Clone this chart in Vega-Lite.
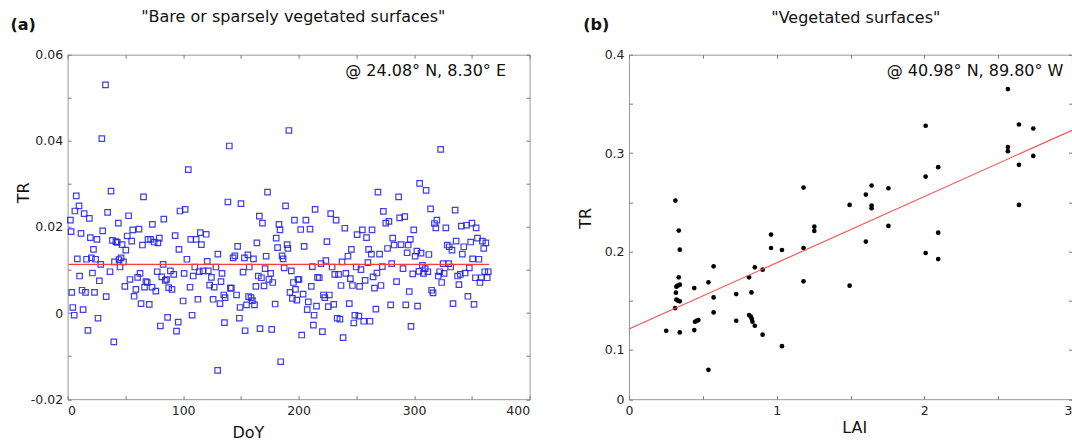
{
"$schema": "https://vega.github.io/schema/vega-lite/v6.json",
"background": "white",
"padding": {"left": 9.6, "top": 8.7, "right": 0, "bottom": 0},
"bounds": "flush",
"spacing": 99.4,
"config": {
  "font": "DejaVu Sans",
  "view": {"stroke": "#999999", "strokeWidth": 1},
  "axis": {"grid": false, "domain": false, "tickColor": "#777", "tickSize": -3.5, "tickWidth": 1, "labelFontSize": 12.5, "labelColor": "#222", "labelFont": "DejaVu Sans", "titleFont": "DejaVu Sans", "titleFontSize": 16, "titleFontWeight": "normal", "titleColor": "#111", "labelPadding": 8.5},
  "text": {"font": "DejaVu Sans", "color": "#111"}
},
"datasets": {
  "bare": [
{"DoY":2.4,"TR":0.0216},{"DoY":3,"TR":0.0189},{"DoY":3.6,"TR":0.0048},{"DoY":4.5,"TR":0.0013},{"DoY":5.7,"TR":-0.0005},{"DoY":6.3,"TR":0.0237},{"DoY":7.5,"TR":0.0272},{"DoY":8.4,"TR":0.0126},{"DoY":9.9,"TR":0.0249},{"DoY":10.4,"TR":0.0086},{"DoY":11.6,"TR":0.0185},{"DoY":12.5,"TR":0.0053},{"DoY":13.4,"TR":0.0008},{"DoY":14.3,"TR":0.0231},{"DoY":15.5,"TR":0.0048},{"DoY":16.4,"TR":0.0125},{"DoY":17.6,"TR":-0.004},{"DoY":18.8,"TR":0.022},{"DoY":19.7,"TR":0.0175},{"DoY":20.6,"TR":0.0128},{"DoY":21.5,"TR":0.0093},{"DoY":22.4,"TR":0.0148},{"DoY":23.3,"TR":0.0048},{"DoY":24.2,"TR":0.0125},{"DoY":25.4,"TR":0.0171},{"DoY":26.3,"TR":-0.0012},{"DoY":27.5,"TR":0.0075},{"DoY":28.7,"TR":0.0113},{"DoY":29.6,"TR":0.0405},{"DoY":30.4,"TR":0.0191},{"DoY":32.8,"TR":0.053},{"DoY":33.4,"TR":0.0038},{"DoY":34.6,"TR":0.0234},{"DoY":36.7,"TR":0.0096},{"DoY":37.6,"TR":0.0283},{"DoY":38.8,"TR":0.0169},{"DoY":40,"TR":-0.0067},{"DoY":40.6,"TR":0.0119},{"DoY":41.8,"TR":0.0166},{"DoY":43,"TR":0.0164},{"DoY":43.9,"TR":0.0209},{"DoY":44.5,"TR":0.0124},{"DoY":45.4,"TR":0.0107},{"DoY":46.3,"TR":0.0128},{"DoY":47.2,"TR":0.0159},{"DoY":48.4,"TR":0.0119},{"DoY":49.6,"TR":0.0062},{"DoY":50.4,"TR":0.0146},{"DoY":51.6,"TR":0.0179},{"DoY":52.8,"TR":0.0226},{"DoY":54,"TR":0.0078},{"DoY":55.5,"TR":0.0167},{"DoY":56.4,"TR":0.0193},{"DoY":57.6,"TR":0.0039},{"DoY":59.1,"TR":0.0055},{"DoY":60.6,"TR":0.0083},{"DoY":61.8,"TR":0.0195},{"DoY":62.7,"TR":0.0092},{"DoY":63.6,"TR":0.0022},{"DoY":64.8,"TR":0.0158},{"DoY":65.7,"TR":0.027},{"DoY":66.6,"TR":0.006},{"DoY":67.8,"TR":0.0073},{"DoY":69,"TR":0.0071},{"DoY":69.6,"TR":0.0171},{"DoY":70.7,"TR":0.002},{"DoY":71.9,"TR":0.0171},{"DoY":73.1,"TR":0.006},{"DoY":73.4,"TR":0.0206},{"DoY":74.9,"TR":0.0165},{"DoY":76.4,"TR":0.0051},{"DoY":77.6,"TR":0.0096},{"DoY":78.2,"TR":0.0163},{"DoY":79.4,"TR":0.0174},{"DoY":80.3,"TR":-0.003},{"DoY":81.5,"TR":0.0084},{"DoY":82.7,"TR":0.0113},{"DoY":83.3,"TR":0.0218},{"DoY":84.5,"TR":0.0076},{"DoY":85.7,"TR":0.0078},{"DoY":86.6,"TR":-0.001},{"DoY":87.5,"TR":0.0059},{"DoY":89,"TR":0.0098},{"DoY":90.4,"TR":0.0055},{"DoY":91.9,"TR":0.009},{"DoY":93.1,"TR":0.018},{"DoY":94.3,"TR":-0.0042},{"DoY":95.8,"TR":-0.0021},{"DoY":96.4,"TR":0.0148},{"DoY":97.3,"TR":0.0237},{"DoY":100,"TR":0.0028},{"DoY":100.9,"TR":0.0092},{"DoY":101.8,"TR":0.0241},{"DoY":103.3,"TR":0.0125},{"DoY":104.5,"TR":0.0333},{"DoY":106,"TR":0.006},{"DoY":106.6,"TR":0.0171},{"DoY":107.8,"TR":-0.0005},{"DoY":108.7,"TR":0.0086},{"DoY":110.1,"TR":0.0107},{"DoY":111.3,"TR":0.0171},{"DoY":112.8,"TR":0.0032},{"DoY":114,"TR":0.0096},{"DoY":114.9,"TR":0.0187},{"DoY":115.8,"TR":0.0159},{"DoY":117.3,"TR":0.0098},{"DoY":120,"TR":0.0183},{"DoY":120.9,"TR":0.012},{"DoY":121.8,"TR":0.0098},{"DoY":123,"TR":0.0065},{"DoY":124.5,"TR":0.0083},{"DoY":126,"TR":0.0032},{"DoY":126.9,"TR":0.006},{"DoY":128.4,"TR":0.0107},{"DoY":129.9,"TR":-0.0133},{"DoY":130.1,"TR":0.0137},{"DoY":131.9,"TR":0.0022},{"DoY":132.8,"TR":0.0073},{"DoY":133.7,"TR":0.0092},{"DoY":135.2,"TR":0.0042},{"DoY":136.4,"TR":0.0036},{"DoY":135.8,"TR":-0.0022},{"DoY":138.8,"TR":0.0258},{"DoY":140,"TR":0.0388},{"DoY":140.9,"TR":0.0058},{"DoY":141.8,"TR":0.0058},{"DoY":143.3,"TR":0.0128},{"DoY":144.8,"TR":0.0133},{"DoY":146.3,"TR":0.0042},{"DoY":147.2,"TR":0.0155},{"DoY":148.7,"TR":-0.0012},{"DoY":149.3,"TR":0.0013},{"DoY":150.1,"TR":0.0254},{"DoY":151.9,"TR":0.0095},{"DoY":153.1,"TR":0.0128},{"DoY":153.7,"TR":-0.0041},{"DoY":154.9,"TR":0.0019},{"DoY":156.1,"TR":0.0135},{"DoY":156.7,"TR":0.0038},{"DoY":157.3,"TR":0.0107},{"DoY":158.8,"TR":0.0036},{"DoY":160,"TR":0.0029},{"DoY":160.9,"TR":0.0126},{"DoY":161.8,"TR":0.0019},{"DoY":163,"TR":0.0062},{"DoY":163.9,"TR":0.0163},{"DoY":165.1,"TR":0.0086},{"DoY":166,"TR":0.0225},{"DoY":166.6,"TR":-0.0036},{"DoY":167.8,"TR":0.0082},{"DoY":168.7,"TR":0.0209},{"DoY":170.1,"TR":0.0063},{"DoY":171,"TR":0.0103},{"DoY":171.9,"TR":0.0132},{"DoY":173.1,"TR":0.0281},{"DoY":174.3,"TR":0.0078},{"DoY":175.8,"TR":0.0092},{"DoY":176.7,"TR":-0.0038},{"DoY":177.6,"TR":0.0071},{"DoY":179.7,"TR":0.0021},{"DoY":180.6,"TR":0.0174},{"DoY":181.8,"TR":0.0152},{"DoY":183,"TR":0.0206},{"DoY":183.9,"TR":0.0193},{"DoY":184.5,"TR":-0.0113},{"DoY":185.7,"TR":0.0133},{"DoY":186.6,"TR":0.0126},{"DoY":187.5,"TR":0.0105},{"DoY":188.7,"TR":0.0249},{"DoY":190.1,"TR":0.0159},{"DoY":190.7,"TR":0.015},{"DoY":191.6,"TR":0.0424},{"DoY":192.5,"TR":0.0048},{"DoY":193.7,"TR":0.0098},{"DoY":194.6,"TR":0.0034},{"DoY":195.5,"TR":0.0071},{"DoY":196.4,"TR":0.0216},{"DoY":197.3,"TR":0.0055},{"DoY":198.5,"TR":0.003},{"DoY":199.4,"TR":0.0078},{"DoY":200.3,"TR":0.0078},{"DoY":201.8,"TR":0.0194},{"DoY":202.7,"TR":-0.0051},{"DoY":203.9,"TR":0.0044},{"DoY":204.8,"TR":0.0155},{"DoY":206.3,"TR":0.0216},{"DoY":207.5,"TR":0.0008},{"DoY":208.4,"TR":0.0026},{"DoY":209.9,"TR":0.0195},{"DoY":211,"TR":0.0062},{"DoY":211.9,"TR":0.0108},{"DoY":212.8,"TR":-0.0028},{"DoY":213.4,"TR":-0.0005},{"DoY":214.3,"TR":0.0241},{"DoY":215.5,"TR":0.0016},{"DoY":216.4,"TR":0.0083},{"DoY":217.9,"TR":0.0082},{"DoY":219.4,"TR":0.0115},{"DoY":220.6,"TR":-0.0043},{"DoY":221.5,"TR":0.0042},{"DoY":222.7,"TR":0.0036},{"DoY":223.6,"TR":0.0122},{"DoY":224.5,"TR":0.0166},{"DoY":225.7,"TR":0.0015},{"DoY":226.6,"TR":0.0042},{"DoY":227.8,"TR":0.0231},{"DoY":229,"TR":0.0107},{"DoY":230.4,"TR":0.002},{"DoY":231.3,"TR":0.009},{"DoY":232.5,"TR":0.0216},{"DoY":233.4,"TR":-0.0012},{"DoY":234.6,"TR":0.009},{"DoY":235.8,"TR":-0.0014},{"DoY":236.7,"TR":0.0064},{"DoY":237.6,"TR":0.0119},{"DoY":238.5,"TR":-0.0057},{"DoY":240,"TR":0.0197},{"DoY":240.9,"TR":0.0092},{"DoY":242.7,"TR":0.0132},{"DoY":243.9,"TR":0.0022},{"DoY":244.8,"TR":0.008},{"DoY":245.7,"TR":0.0148},{"DoY":246.6,"TR":0.0064},{"DoY":247.8,"TR":-0.0023},{"DoY":248.7,"TR":-0.0005},{"DoY":249.9,"TR":0.0107},{"DoY":250.7,"TR":0.0182},{"DoY":252.2,"TR":-0.0007},{"DoY":252.8,"TR":0.0062},{"DoY":254,"TR":0.0101},{"DoY":255.2,"TR":0.0193},{"DoY":256.4,"TR":-0.0019},{"DoY":257.6,"TR":0.0076},{"DoY":258.8,"TR":0.0175},{"DoY":260,"TR":0.0117},{"DoY":260.6,"TR":0.0148},{"DoY":261.8,"TR":-0.0019},{"DoY":263,"TR":0.0137},{"DoY":263.6,"TR":0.0193},{"DoY":264.5,"TR":0.0084},{"DoY":265.7,"TR":0.0058},{"DoY":266.9,"TR":0.0009},{"DoY":267.8,"TR":0.0093},{"DoY":268.7,"TR":0.0281},{"DoY":270.1,"TR":0.0137},{"DoY":271.3,"TR":0.0064},{"DoY":272.5,"TR":0.0108},{"DoY":273.4,"TR":0.0236},{"DoY":275.5,"TR":0.0209},{"DoY":277,"TR":0.015},{"DoY":278.2,"TR":0.0213},{"DoY":279.7,"TR":0.0019},{"DoY":280.6,"TR":0.0115},{"DoY":281.5,"TR":0.0174},{"DoY":282.7,"TR":0.0158},{"DoY":284.8,"TR":0.0073},{"DoY":286.6,"TR":0.027},{"DoY":287.5,"TR":0.0221},{"DoY":288.7,"TR":0.0159},{"DoY":290.4,"TR":0.0103},{"DoY":291.9,"TR":0.0224},{"DoY":292.8,"TR":0.0019},{"DoY":294,"TR":0.014},{"DoY":294.9,"TR":0.0158},{"DoY":295.8,"TR":0.005},{"DoY":296.7,"TR":0.0171},{"DoY":297.3,"TR":-0.0031},{"DoY":298.8,"TR":0.0091},{"DoY":299.7,"TR":0.0193},{"DoY":300.9,"TR":0.0132},{"DoY":302.4,"TR":0.0144},{"DoY":303,"TR":0.0016},{"DoY":304.2,"TR":0.0097},{"DoY":304.8,"TR":0.0301},{"DoY":306,"TR":0.0139},{"DoY":307.2,"TR":0.0111},{"DoY":308.1,"TR":0.0092},{"DoY":309.6,"TR":0.0103},{"DoY":310.4,"TR":0.0285},{"DoY":311.9,"TR":0.0096},{"DoY":312.8,"TR":0.0136},{"DoY":314.3,"TR":0.0242},{"DoY":315.2,"TR":0.0053},{"DoY":316.4,"TR":0.0047},{"DoY":317.6,"TR":0.0208},{"DoY":318.8,"TR":0.0198},{"DoY":319.7,"TR":0.0216},{"DoY":320.9,"TR":0.0086},{"DoY":322.1,"TR":0.0096},{"DoY":323,"TR":0.038},{"DoY":323.9,"TR":0.0071},{"DoY":325.1,"TR":0.0115},{"DoY":326,"TR":0.0092},{"DoY":327.5,"TR":0.0198},{"DoY":328.7,"TR":0.0158},{"DoY":329.9,"TR":0.0115},{"DoY":330.4,"TR":0.0154},{"DoY":331.6,"TR":0.0107},{"DoY":332.8,"TR":0.0146},{"DoY":333.7,"TR":0.0022},{"DoY":335.5,"TR":0.0239},{"DoY":336.4,"TR":0.0167},{"DoY":337.6,"TR":0.0086},{"DoY":338.8,"TR":0.0066},{"DoY":340,"TR":0.009},{"DoY":340.9,"TR":0.0202},{"DoY":341.8,"TR":0.0137},{"DoY":343,"TR":0.0154},{"DoY":344.2,"TR":0.0093},{"DoY":345.4,"TR":0.0204},{"DoY":346.6,"TR":0.0039},{"DoY":347.8,"TR":0.0105},{"DoY":349,"TR":0.0165},{"DoY":350.1,"TR":0.0209},{"DoY":350.7,"TR":0.0126},{"DoY":351.9,"TR":0.002},{"DoY":353.1,"TR":0.0082},{"DoY":353.7,"TR":0.0198},{"DoY":354.9,"TR":0.0174},{"DoY":356.1,"TR":0.0125},{"DoY":357,"TR":0.0071},{"DoY":358.2,"TR":0.0082},{"DoY":359.1,"TR":0.0167},{"DoY":360.3,"TR":0.015},{"DoY":361.2,"TR":0.0096},{"DoY":362.1,"TR":0.0163},{"DoY":363.3,"TR":0.0082},{"DoY":364.2,"TR":0.0096}
  ],
  "bareMean": [{"DoY": 0.6, "TR": 0.0113}, {"DoY": 365, "TR": 0.0113}],
  "veg": [
{"LAI":0.252,"TR":0.1195},{"LAI":0.314,"TR":0.2518},{"LAI":0.337,"TR":0.2213},{"LAI":0.344,"TR":0.2019},{"LAI":0.337,"TR":0.1738},{"LAI":0.321,"TR":0.1643},{"LAI":0.33,"TR":0.1653},{"LAI":0.344,"TR":0.1663},{"LAI":0.318,"TR":0.1582},{"LAI":0.321,"TR":0.1511},{"LAI":0.332,"TR":0.1501},{"LAI":0.344,"TR":0.1494},{"LAI":0.312,"TR":0.1426},{"LAI":0.344,"TR":0.1178},{"LAI":0.442,"TR":0.1629},{"LAI":0.442,"TR":0.1202},{"LAI":0.447,"TR":0.1287},{"LAI":0.458,"TR":0.1297},{"LAI":0.47,"TR":0.1304},{"LAI":0.538,"TR":0.1687},{"LAI":0.538,"TR":0.0798},{"LAI":0.573,"TR":0.185},{"LAI":0.573,"TR":0.1534},{"LAI":0.573,"TR":0.1382},{"LAI":0.726,"TR":0.1568},{"LAI":0.726,"TR":0.1297},{"LAI":0.813,"TR":0.1738},{"LAI":0.813,"TR":0.1355},{"LAI":0.825,"TR":0.1338},{"LAI":0.829,"TR":0.1585},{"LAI":0.832,"TR":0.1314},{"LAI":0.836,"TR":0.1287},{"LAI":0.852,"TR":0.184},{"LAI":0.852,"TR":0.1246},{"LAI":0.905,"TR":0.1816},{"LAI":0.905,"TR":0.1155},{"LAI":0.962,"TR":0.2172},{"LAI":0.962,"TR":0.2036},{"LAI":1.036,"TR":0.2016},{"LAI":1.036,"TR":0.1039},{"LAI":1.182,"TR":0.265},{"LAI":1.182,"TR":0.2036},{"LAI":1.182,"TR":0.1697},{"LAI":1.255,"TR":0.2253},{"LAI":1.255,"TR":0.2209},{"LAI":1.494,"TR":0.2474},{"LAI":1.494,"TR":0.1653},{"LAI":1.604,"TR":0.2579},{"LAI":1.604,"TR":0.2101},{"LAI":1.643,"TR":0.2671},{"LAI":1.643,"TR":0.2467},{"LAI":1.643,"TR":0.244},{"LAI":1.757,"TR":0.2643},{"LAI":1.757,"TR":0.226},{"LAI":2.009,"TR":0.3278},{"LAI":2.009,"TR":0.2762},{"LAI":2.009,"TR":0.1985},{"LAI":2.094,"TR":0.2857},{"LAI":2.094,"TR":0.2192},{"LAI":2.094,"TR":0.1924},{"LAI":2.566,"TR":0.3651},{"LAI":2.566,"TR":0.3061},{"LAI":2.566,"TR":0.302},{"LAI":2.641,"TR":0.3291},{"LAI":2.641,"TR":0.2881},{"LAI":2.641,"TR":0.2474},{"LAI":2.738,"TR":0.325},{"LAI":2.738,"TR":0.2972}
  ],
  "vegFit": [{"LAI": 0, "TR": 0.1212}, {"LAI": 3, "TR": 0.3232}],
  "one": [{}]
},
"hconcat": [
  {
    "width": 462, "height": 344.5,
    "layer": [
      {
        "data": {"name": "bare"},
        "mark": {"type": "point", "shape": "square", "filled": false, "size": 30, "strokeWidth": 1.2, "color": "#1e1ee0", "opacity": 0.85},
        "encoding": {
          "x": {"field": "DoY", "type": "quantitative", "scale": {"domain": [0, 400], "nice": false, "zero": false},
                "axis": {"orient": "bottom", "values": [0,50,100,150,200,250,300,350,400], "labelExpr": "datum.value % 100 == 0 ? format(datum.value, 'd') : ''", "title": "DoY", "titleX": 180.2, "titleY": 33, "titleAlign": "center", "titleBaseline": "middle"}},
          "y": {"field": "TR", "type": "quantitative", "scale": {"domain": [-0.02, 0.06], "nice": false, "zero": false},
                "axis": {"orient": "left", "values": [-0.02,-0.01,0,0.01,0.02,0.03,0.04,0.05,0.06], "labelExpr": "abs(datum.value) < 1e-9 ? '0' : (abs(round(datum.value*100)) % 2 == 1 ? '' : (datum.value < 0 ? '-' : '') + format(abs(datum.value), '.2f'))", "title": "TR", "titleX": -43.8, "titleY": 137.7, "titleAlign": "center", "titleBaseline": "middle", "titleAngle": -90}}
        }
      },
      {
        "data": {"name": "bareMean"},
        "mark": {"type": "line", "color": "#ff3b3b", "strokeWidth": 1.4},
        "encoding": {
          "x": {"field": "DoY", "type": "quantitative", "axis": {"orient": "top", "values": [0,50,100,150,200,250,300,350,400], "labels": false, "title": null}},
          "y": {"field": "TR", "type": "quantitative", "axis": {"orient": "right", "values": [-0.02,-0.01,0,0.01,0.02,0.03,0.04,0.05,0.06], "labels": false, "title": null}}
        }
      },
      {
        "data": {"name": "one"},
        "mark": {"type": "text", "align": "right", "baseline": "middle", "fontSize": 16},
        "encoding": {
          "x": {"datum": 379.6, "type": "quantitative", "axis": null},
          "y": {"datum": 0.0562, "type": "quantitative", "axis": null},
          "text": {"value": "@ 24.08° N, 8.30° E"}
        }
      },
      {
        "data": {"name": "one"},
        "mark": {"type": "text", "align": "center", "baseline": "middle", "fontSize": 16},
        "encoding": {
          "x": {"datum": 195.4, "type": "quantitative", "axis": null},
          "y": {"datum": 0.0687, "type": "quantitative", "axis": null},
          "text": {"value": "\"Bare or sparsely vegetated surfaces\""}
        }
      },
      {
        "data": {"name": "one"},
        "mark": {"type": "text", "align": "left", "baseline": "middle", "fontSize": 16, "fontWeight": "bold"},
        "encoding": {
          "x": {"datum": -49.5, "type": "quantitative", "axis": null},
          "y": {"datum": 0.0668, "type": "quantitative", "axis": null},
          "text": {"value": "(a)"}
        }
      }
    ],
    "resolve": {"axis": {"x": "independent", "y": "independent"}}
  },
  {
    "width": 443, "height": 344.5,
    "layer": [
      {
        "data": {"name": "veg"},
        "mark": {"type": "circle", "size": 22, "color": "#000", "opacity": 1},
        "encoding": {
          "x": {"field": "LAI", "type": "quantitative", "scale": {"domain": [0, 3], "nice": false, "zero": false},
                "axis": {"orient": "bottom", "values": [0,0.5,1,1.5,2,2.5,3], "labelExpr": "datum.value % 1 == 0 ? format(datum.value, 'd') : ''", "labelAlign": {"condition": {"test": "datum.value == 3", "value": "right"}, "value": "center"}, "title": "LAI", "titleX": 225.3, "titleY": 28, "titleAlign": "center", "titleBaseline": "middle"}},
          "y": {"field": "TR", "type": "quantitative", "scale": {"domain": [0.05, 0.4], "nice": false, "zero": false},
                "axis": {"orient": "left", "values": [0.05,0.1,0.15,0.2,0.25,0.3,0.35,0.4], "labelExpr": "abs(datum.value - 0.05) < 1e-9 ? '0' : (round(datum.value*20) % 2 == 1 ? '' : format(datum.value, '.1f'))", "title": "TR", "titleX": -43.2, "titleY": 163.2, "titleAlign": "center", "titleBaseline": "middle", "titleAngle": -90}}
        }
      },
      {
        "data": {"name": "vegFit"},
        "mark": {"type": "line", "color": "#ff4a4a", "strokeWidth": 1.1},
        "encoding": {
          "x": {"field": "LAI", "type": "quantitative", "axis": {"orient": "top", "values": [0,0.5,1,1.5,2,2.5,3], "labels": false, "title": null}},
          "y": {"field": "TR", "type": "quantitative", "axis": {"orient": "right", "values": [0.05,0.1,0.15,0.2,0.25,0.3,0.35,0.4], "labels": false, "title": null}}
        }
      },
      {
        "data": {"name": "one"},
        "mark": {"type": "text", "align": "right", "baseline": "middle", "fontSize": 16},
        "encoding": {
          "x": {"datum": 2.942, "type": "quantitative", "axis": null},
          "y": {"datum": 0.3833, "type": "quantitative", "axis": null},
          "text": {"value": "@ 40.98° N, 89.80° W"}
        }
      },
      {
        "data": {"name": "one"},
        "mark": {"type": "text", "align": "center", "baseline": "middle", "fontSize": 16},
        "encoding": {
          "x": {"datum": 1.536, "type": "quantitative", "axis": null},
          "y": {"datum": 0.4376, "type": "quantitative", "axis": null},
          "text": {"value": "\"Vegetated surfaces\""}
        }
      },
      {
        "data": {"name": "one"},
        "mark": {"type": "text", "align": "left", "baseline": "middle", "fontSize": 16, "fontWeight": "bold"},
        "encoding": {
          "x": {"datum": -0.31, "type": "quantitative", "axis": null},
          "y": {"datum": 0.4298, "type": "quantitative", "axis": null},
          "text": {"value": "(b)"}
        }
      }
    ],
    "resolve": {"axis": {"x": "independent", "y": "independent"}}
  }
]
}
